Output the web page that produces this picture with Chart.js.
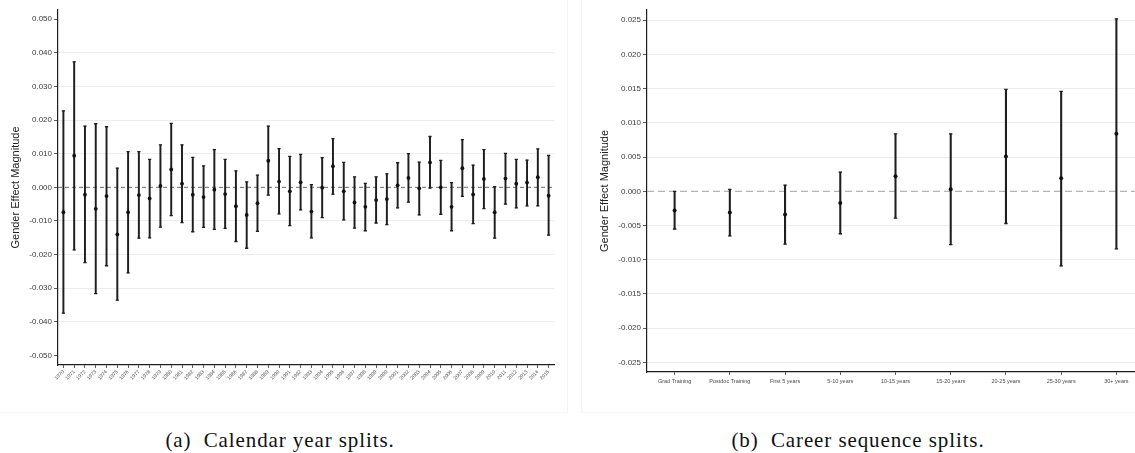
<!DOCTYPE html>
<html>
<head>
<meta charset="utf-8">
<script src="https://cdn.jsdelivr.net/npm/chart.js@4"></script>
<style>
  html, body { margin: 0; padding: 0; background: #fff; }
  body { width: 1135px; height: 453px; overflow: hidden; position: relative; }
  .panel { position: absolute; top: 0; }
  #panel-a { left: 0; width: 568px; height: 413px; }
  #panel-b { left: 589px; width: 566px; height: 413px; }
  .frame-a { position: absolute; left: 0; top: 0; width: 567px; height: 412px; border-right: 1px solid #f4f4f4; border-bottom: 1px solid #f6f6f6; }
  .frame-b { position: absolute; left: 581px; top: 0; width: 560px; height: 412px; border-left: 1px solid #f4f4f4; border-bottom: 1px solid #f6f6f6; }
  .caption { position: absolute; top: 428px; font-family: "Liberation Serif", "DejaVu Serif", serif; font-size: 21px; letter-spacing: 0.9px; color: #111; text-align: center; white-space: pre; }
  #cap-a { left: 0; width: 560px; }
  #cap-b { left: 578px; width: 560px; }
</style>
</head>
<body>
<div class="frame-a"></div>
<div class="frame-b"></div>
<div class="panel" id="panel-a"><canvas id="calendar-splits"></canvas></div>
<div class="panel" id="panel-b"><canvas id="career-splits"></canvas></div>
<div class="caption" id="cap-a">(a)  Calendar year splits.</div>
<div class="caption" id="cap-b">(b)  Career sequence splits.</div>

<script>
// (a) calendar year splits
const years = ['1970','1971','1972','1973','1974','1975','1976','1977','1978','1979',
  '1980','1981','1982','1983','1984','1985','1986','1987','1988','1989',
  '1990','1991','1992','1993','1994','1995','1996','1997','1998','1999',
  '2000','2001','2002','2003','2004','2005','2006','2007','2008','2009',
  '2010','2011','2012','2013','2014','2015'];
const yearEst = [-0.0074, 0.0094, -0.0022, -0.0064, -0.0026, -0.0140, -0.0074, -0.0023, -0.0033, 0.0004,
  0.0053, 0.0011, -0.0022, -0.0029, -0.0007, -0.0020, -0.0056, -0.0082, -0.0047, 0.0079,
  0.0017, -0.0012, 0.0015, -0.0072, -0.0001, 0.0063, -0.0012, -0.0045, -0.0058, -0.0038,
  -0.0035, 0.0006, 0.0028, -0.0003, 0.0074, 0.0000, -0.0058, 0.0057, -0.0021, 0.0025,
  -0.0074, 0.0026, 0.0011, 0.0014, 0.0030, -0.0025];
const yearHi = [0.0227, 0.0373, 0.0182, 0.0189, 0.0180, 0.0057, 0.0106, 0.0106, 0.0083, 0.0126,
  0.0190, 0.0126, 0.0089, 0.0064, 0.0112, 0.0083, 0.0049, 0.0016, 0.0036, 0.0182,
  0.0115, 0.0092, 0.0098, 0.0008, 0.0088, 0.0145, 0.0074, 0.0031, 0.0012, 0.0031,
  0.0040, 0.0073, 0.0100, 0.0075, 0.0151, 0.0080, 0.0014, 0.0142, 0.0066, 0.0112,
  0.0002, 0.0101, 0.0083, 0.0081, 0.0114, 0.0095];
const yearLo = [-0.0374, -0.0186, -0.0224, -0.0316, -0.0233, -0.0335, -0.0254, -0.0151, -0.0150, -0.0118,
  -0.0084, -0.0105, -0.0132, -0.0119, -0.0125, -0.0122, -0.0161, -0.0181, -0.0131, -0.0023,
  -0.0079, -0.0114, -0.0067, -0.0150, -0.0090, -0.0020, -0.0097, -0.0121, -0.0129, -0.0106,
  -0.0111, -0.0061, -0.0044, -0.0082, -0.0002, -0.0080, -0.0129, -0.0027, -0.0108, -0.0063,
  -0.0151, -0.0050, -0.0061, -0.0055, -0.0055, -0.0142];
const yearTicks = [-0.05, -0.04, -0.03, -0.02, -0.01, 0, 0.01, 0.02, 0.03, 0.04, 0.05];

// (b) career sequence splits
const stages = ['Grad Training', 'Postdoc Training', 'First 5 years', '5-10 years', '10-15 years',
  '15-20 years', '20-25 years', '25-30 years', '30+ years'];
const stageEst = [-0.0028, -0.0031, -0.0034, -0.0017, 0.0022, 0.0003, 0.0051, 0.0019, 0.0084];
const stageHi = [0.0000, 0.0003, 0.0009, 0.0028, 0.0084, 0.0084, 0.0149, 0.0146, 0.0252];
const stageLo = [-0.0055, -0.0065, -0.0077, -0.0062, -0.0039, -0.0078, -0.0047, -0.0109, -0.0084];
const stageTicks = [-0.025, -0.02, -0.015, -0.01, -0.005, 0, 0.005, 0.01, 0.015, 0.02, 0.025];

const sans = "'Liberation Sans', Arial, sans-serif";
const ink = '#1e1e1e';

// dashed reference line at zero, full width of the plot area
const zeroLine = {
  id: 'zeroLine',
  beforeDatasetsDraw(chart, args, opts) {
    const {ctx, chartArea, scales} = chart;
    const py = scales.y.getPixelForValue(0);
    ctx.save();
    ctx.strokeStyle = opts.color;
    ctx.lineWidth = opts.width;
    ctx.setLineDash(opts.dash);
    ctx.beginPath();
    ctx.moveTo(chartArea.left, py);
    ctx.lineTo(chartArea.right, py);
    ctx.stroke();
    ctx.restore();
  }
};

function errorChart(el, cfg) {
  return new Chart(el, {
    type: 'bar',
    data: {
      labels: cfg.labels,
      datasets: [
        {
          type: 'bar',
          data: cfg.lo.map((l, i) => [l, cfg.hi[i]]),
          backgroundColor: ink,
          barThickness: cfg.barWidth,
          borderWidth: 0,
          order: 3
        },
        {
          type: 'line',
          data: cfg.hi,
          showLine: false,
          pointStyle: 'line',
          pointRadius: cfg.cap,
          pointBorderWidth: 1.3,
          borderColor: ink,
          order: 2
        },
        {
          type: 'line',
          data: cfg.lo,
          showLine: false,
          pointStyle: 'line',
          pointRadius: cfg.cap,
          pointBorderWidth: 1.3,
          borderColor: ink,
          order: 2
        },
        {
          type: 'line',
          data: cfg.est,
          showLine: false,
          pointStyle: 'circle',
          pointRadius: cfg.dot,
          pointBorderWidth: 0,
          pointBackgroundColor: '#111',
          borderColor: '#111',
          order: 1
        }
      ]
    },
    plugins: [zeroLine],
    options: {
      responsive: false,
      animation: false,
      events: [],
      layout: { padding: cfg.padding },
      plugins: {
        legend: { display: false },
        tooltip: { enabled: false },
        zeroLine: cfg.zero
      },
      scales: {
        x: {
          offset: true,
          grid: { display: true, drawOnChartArea: false, offset: false, drawTicks: true, tickLength: 3, tickColor: '#333', tickWidth: 0.8 },
          border: { color: ink, width: 1.2 },
          ticks: {
            autoSkip: false,
            minRotation: cfg.rot,
            maxRotation: cfg.rot,
            padding: cfg.xPad,
            color: '#4a4a4a',
            font: { family: sans, size: cfg.xFont }
          },
          afterFit(scale) { scale.height = cfg.xHeight; }
        },
        y: {
          min: cfg.min,
          max: cfg.max,
          afterBuildTicks(scale) { scale.ticks = cfg.ticks.map(v => ({ value: v })); },
          afterFit(scale) { scale.width = 58; },
          grid: {
            color: c => {
              const v = c.tick ? c.tick.value : null;
              if (v === 0) return 'rgba(0,0,0,0)';
              if (cfg.edgeGrid === false && Math.abs(v) >= cfg.ticks[cfg.ticks.length - 1] - 1e-9) return 'rgba(0,0,0,0)';
              return '#ececec';
            },
            lineWidth: 1,
            tickLength: 4,
            tickColor: '#333',
            tickWidth: 0.8
          },
          border: { color: ink, width: 1.2 },
          ticks: {
            padding: 2,
            color: '#3c3c3c',
            font: { family: sans, size: 8 },
            callback: v => Math.abs(v) < 1e-9 ? '0.000' : v.toFixed(3)
          },
          title: {
            display: true,
            text: 'Gender Effect Magnitude',
            color: '#222',
            font: { family: sans, size: 11 },
            padding: { top: 9, bottom: 0 }
          }
        }
      }
    }
  });
}

const canvasA = document.getElementById('calendar-splits');
canvasA.width = 568; canvasA.height = 413;
errorChart(canvasA, {
  labels: years, est: yearEst, hi: yearHi, lo: yearLo, ticks: yearTicks,
  min: -0.0528, max: 0.0527,
  padding: { top: 10, right: 14, bottom: 0, left: 0 },
  xHeight: 48, rot: 45, xFont: 5, xPad: 1,
  barWidth: 1.3, cap: 1.6, dot: 1.9,
  edgeGrid: false,
  zero: { color: '#6a6a6a', width: 1, dash: [4, 3] }
});

const canvasB = document.getElementById('career-splits');
canvasB.width = 566; canvasB.height = 413;
errorChart(canvasB, {
  labels: stages, est: stageEst, hi: stageHi, lo: stageLo, ticks: stageTicks,
  min: -0.0264, max: 0.0265,
  padding: { top: 10, right: 11, bottom: 0, left: 0 },
  xHeight: 41, rot: 0, xFont: 5.5, xPad: 3,
  barWidth: 1.4, cap: 1.7, dot: 2,
  edgeGrid: true,
  zero: { color: '#b4b4b4', width: 1.3, dash: [7, 4] }
});
</script>
</body>
</html>
